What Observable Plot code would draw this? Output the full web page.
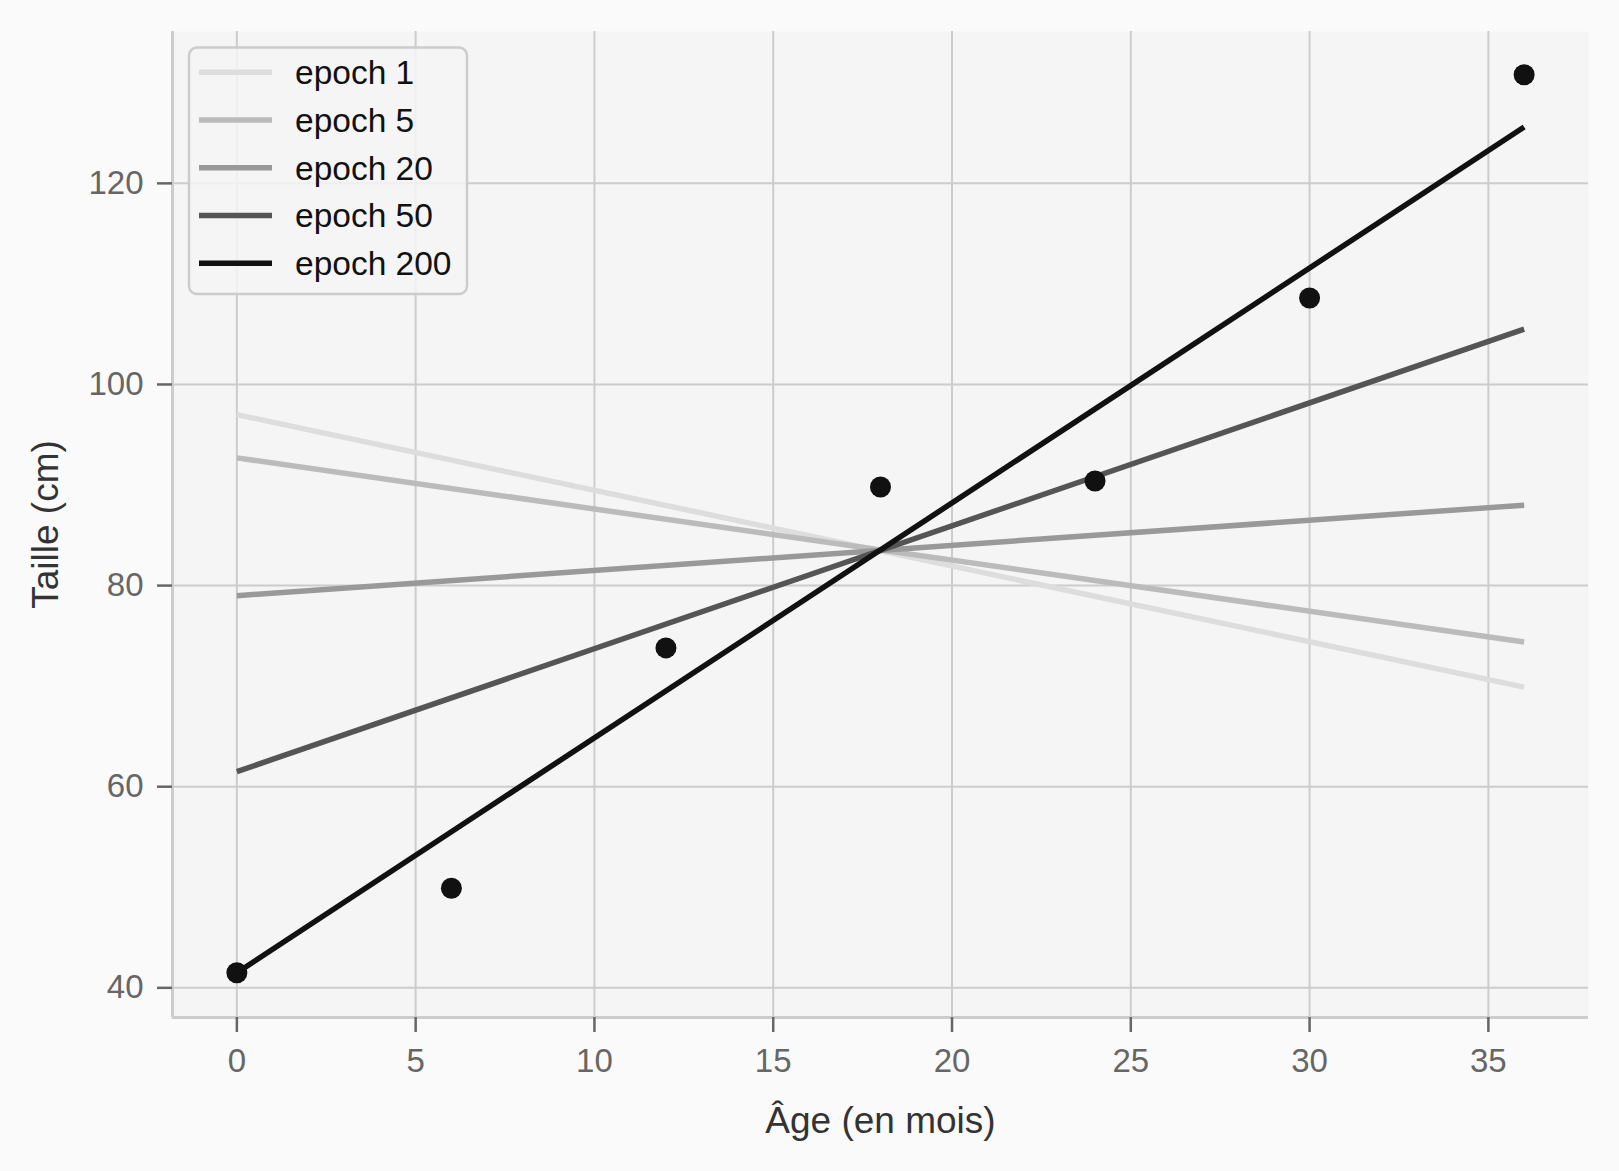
<!DOCTYPE html>
<html>
<head>
<meta charset="utf-8">
<script src="https://cdn.jsdelivr.net/npm/d3@7"></script>
<script src="https://cdn.jsdelivr.net/npm/@observablehq/plot@0.6"></script>
<style>
  html, body { margin: 0; padding: 0; background: #fafafa; }
  #chart { width: 1619px; height: 1171px; }
  svg { font-family: "Liberation Sans", Arial, Helvetica, sans-serif; }
</style>
</head>
<body>
<div id="chart"></div>
<script>
const ages = [0, 6, 12, 18, 24, 30, 36];
const heights = [41.5, 49.9, 73.8, 89.8, 90.4, 108.6, 130.8];

const epochs = ["epoch 1", "epoch 5", "epoch 20", "epoch 50", "epoch 200"];
const fitAt0 = [97.0, 92.7, 79.0, 61.5, 41.5];
const fitAt36 = [69.9, 74.4, 88.0, 105.5, 125.6];
const lineColors = ["#dddddd", "#bbbbbb", "#999999", "#555555", "#111111"];

const xTicks = [0, 5, 10, 15, 20, 25, 30, 35];
const yTicks = [40, 60, 80, 100, 120];

const xLabel = "Âge (en mois)";
const yLabel = "Taille (cm)";

const xDomain = [-1.8, 37.8];
const yDomain = [37.05, 135.1];

const points = ages.map((a, i) => ({age: a, height: heights[i]}));
const fits = epochs.map((e, i) => ({epoch: e, x1: 0, y1: fitAt0[i], x2: 36, y2: fitAt36[i], color: lineColors[i]}));

const chart = Plot.plot({
  width: 1619,
  height: 1171,
  marginLeft: 172,
  marginRight: 31,
  marginTop: 31,
  marginBottom: 154,
  style: {background: "#fafafa", fontFamily: "Liberation Sans, Arial, sans-serif"},
  x: {domain: xDomain},
  y: {domain: yDomain},
  marks: [
    Plot.frame({fill: "#f5f5f5", stroke: null}),
    Plot.gridX(xTicks, {stroke: "#cccccc", strokeOpacity: 1, strokeWidth: 2}),
    Plot.gridY(yTicks, {stroke: "#cccccc", strokeOpacity: 1, strokeWidth: 2}),
    Plot.ruleX([xDomain[0]], {stroke: "#cccccc", strokeWidth: 3}),
    Plot.ruleY([yDomain[0]], {stroke: "#cccccc", strokeWidth: 3}),
    Plot.axisX(xTicks, {color: "#666666", tickSize: 15, tickPadding: 16, fontSize: 33, strokeWidth: 2.5, label: null}),
    Plot.axisY(yTicks, {color: "#666666", tickSize: 15, tickPadding: 14, fontSize: 33, strokeWidth: 2.5, label: null}),
    Plot.link(fits, {x1: "x1", y1: "y1", x2: "x2", y2: "y2", stroke: "color", strokeWidth: 5.5, strokeLinecap: "butt"}),
    Plot.dot(points, {x: "age", y: "height", r: 10.5, fill: "#111111", stroke: null}),
    Plot.text([xLabel], {frameAnchor: "bottom", lineAnchor: "middle", textAnchor: "middle", dy: 104, fontSize: 37, fill: "#333333"}),
    Plot.text([yLabel], {frameAnchor: "left", lineAnchor: "middle", textAnchor: "middle", dx: -126, rotate: -90, fontSize: 37, fill: "#333333"})
  ]
});

document.getElementById("chart").appendChild(chart);

// Legend
const svg = d3.select(chart);
const lg = svg.append("g").attr("text-anchor", "start");
lg.append("rect")
  .attr("x", 189).attr("y", 47.5).attr("width", 278).attr("height", 246.5)
  .attr("rx", 8).attr("ry", 8)
  .attr("fill", "#f5f5f5").attr("fill-opacity", 0.85)
  .attr("stroke", "#cccccc").attr("stroke-width", 2.5);
const rowY0 = 72.3, rowStep = 47.75;
epochs.forEach((e, i) => {
  const y = rowY0 + i * rowStep;
  lg.append("line")
    .attr("x1", 199).attr("x2", 272).attr("y1", y).attr("y2", y)
    .attr("stroke", lineColors[i]).attr("stroke-width", 5.5);
  lg.append("text")
    .attr("x", 295).attr("y", y).attr("dy", "0.35em")
    .attr("text-anchor", "start")
    .attr("font-size", 33.5).attr("fill", "#111111")
    .text(e);
});
</script>
</body>
</html>
